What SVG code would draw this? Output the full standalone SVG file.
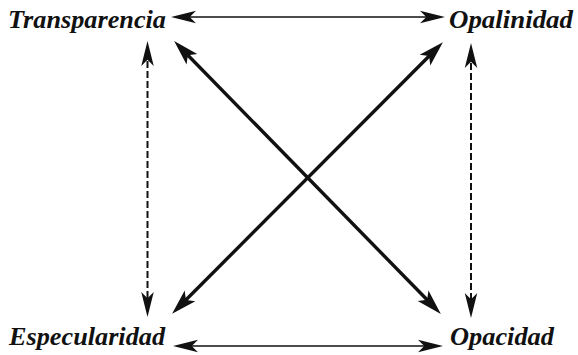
<svg xmlns="http://www.w3.org/2000/svg" width="578" height="355" viewBox="0 0 578 355">
<style>
.lbl{font-family:"Liberation Serif","Times New Roman",serif;font-weight:bold;font-style:italic;font-size:25px;fill:#111}
.thin{stroke:#111;stroke-width:1.6;fill:none}
.dash{stroke:#111;stroke-width:2;fill:none;stroke-dasharray:7 3}
.thick{stroke:#111;stroke-width:3.4;fill:none}
</style>
<defs>
<marker id="ah" markerUnits="userSpaceOnUse" markerWidth="30" markerHeight="20" viewBox="-14 -7 24 14" refX="0" refY="0" orient="auto-start-reverse">
<path d="M8,0 L-12,-5 L-7,0 L-12,5 Z" fill="#111"/>
</marker>
<marker id="ahb" markerUnits="userSpaceOnUse" markerWidth="30" markerHeight="20" viewBox="-16 -8 26 16" refX="0" refY="0" orient="auto-start-reverse">
<path d="M8,0 L-14,-6.5 L-9,0 L-14,6.5 Z" fill="#111"/>
</marker>
</defs>
<g id="connectors">
<line class="thin" x1="181" y1="17" x2="435" y2="17" marker-start="url(#ah)" marker-end="url(#ah)"/>
<line class="thin" x1="183" y1="346" x2="433" y2="346" marker-start="url(#ah)" marker-end="url(#ah)"/>
<line class="dash" x1="147.5" y1="51" x2="147.5" y2="307" marker-start="url(#ah)" marker-end="url(#ah)"/>
<line class="dash" x1="471" y1="53" x2="471" y2="308" marker-start="url(#ah)" marker-end="url(#ah)"/>
<line class="thick" x1="180.6" y1="47.7" x2="434.4" y2="307.3" marker-start="url(#ahb)" marker-end="url(#ahb)"/>
<line class="thick" x1="436.4" y1="48.7" x2="178.6" y2="307.3" marker-start="url(#ahb)" marker-end="url(#ahb)"/>
</g>
<g id="transparencia"><text class="lbl" x="8" y="28" textLength="158" lengthAdjust="spacingAndGlyphs">Transparencia</text></g>
<g id="opalinidad"><text class="lbl" x="449" y="28" textLength="124" lengthAdjust="spacingAndGlyphs">Opalinidad</text></g>
<g id="especularidad"><text class="lbl" x="9" y="345" textLength="156" lengthAdjust="spacingAndGlyphs">Especularidad</text></g>
<g id="opacidad"><text class="lbl" x="450" y="345" textLength="104" lengthAdjust="spacingAndGlyphs">Opacidad</text></g>
</svg>
